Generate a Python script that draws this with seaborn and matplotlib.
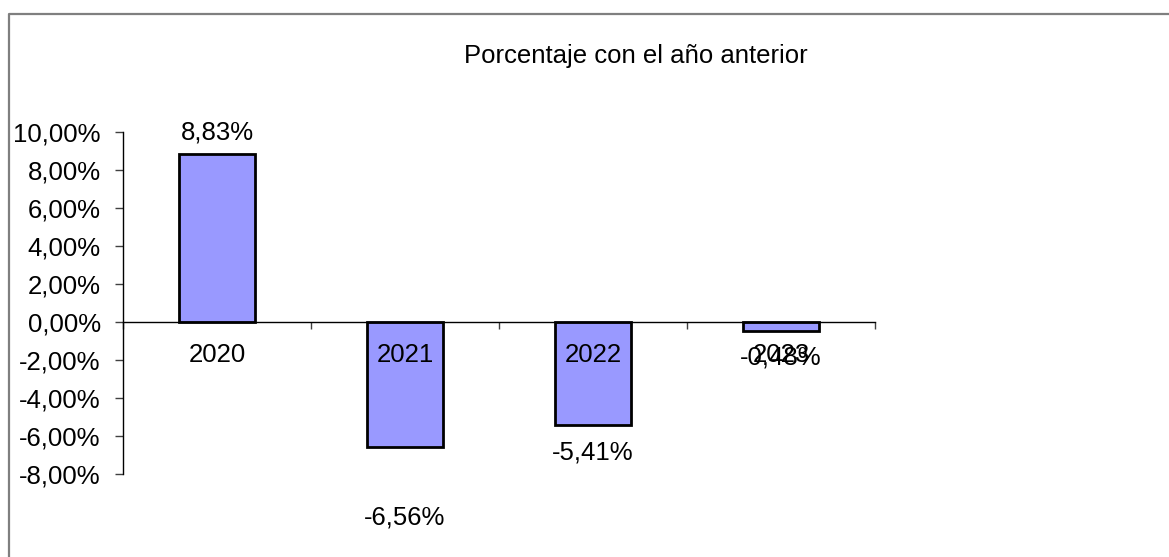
import matplotlib
matplotlib.use("Agg")
import matplotlib.pyplot as plt
import seaborn as sns
from matplotlib.lines import Line2D

# Data
years = ["2020", "2021", "2022", "2023"]
change_pct = [8.83, -6.56, -5.41, -0.48]
# vertical offset (points) of each data label from its bar end
label_offsets = [16, -51, -20, -19]

y_ticks = [-8, -6, -4, -2, 0, 2, 4, 6, 8, 10]
FS = 18.5


def pct(v):
    return f"{v:.2f}%".replace(".", ",")


sns.set_style("white")
plt.rcParams['font.family'] = ['Liberation Sans', 'DejaVu Sans']
plt.rcParams['text.color'] = 'black'
plt.rcParams['xtick.color'] = 'black'
plt.rcParams['ytick.color'] = 'black'

fig = plt.figure(figsize=(11.69, 5.57), dpi=100)
ax = fig.add_axes([123 / 1169, 1 - 474 / 557, (875 - 123) / 1169, (474 - 132) / 557])

sns.barplot(x=years, y=change_pct, color='#9999FF', saturation=1,
            edgecolor='black', linewidth=2, width=0.4, ax=ax)

ax.set_ylim(-8, 10)
ax.set_xlim(-0.5, 3.5)
ax.set_yticks(y_ticks)
ax.set_yticklabels([pct(t) for t in y_ticks], fontsize=FS, color='black')

# category boundaries as ticks; names written on top of the bars
ax.set_xticks([-0.5, 0.5, 1.5, 2.5, 3.5])
ax.set_xticklabels([])
ax.tick_params(axis='x', direction='out', length=5, width=1, color='#404040', bottom=True)
ax.tick_params(axis='y', direction='out', length=6, width=1, color='#404040', pad=10, left=True)

for i, name in enumerate(years):
    ax.annotate(name, (i, 0), xytext=(0, -24), textcoords='offset points',
                ha='center', va='center', fontsize=FS, color='black', zorder=5)

for side in ['top', 'right']:
    ax.spines[side].set_visible(False)
ax.spines['bottom'].set_position(('data', 0))
ax.spines['left'].set_bounds(-8, 10)
for side in ['bottom', 'left']:
    ax.spines[side].set_color('black')
    ax.spines[side].set_linewidth(1)
ax.set_xlabel('')
ax.set_ylabel('')

for i, (v, off) in enumerate(zip(change_pct, label_offsets)):
    ax.annotate(pct(v), (i, v), xytext=(0, off), textcoords='offset points',
                ha='center', va='center', fontsize=FS, color='black',
                annotation_clip=False, zorder=5)

fig.text(636 / 1169, 1 - 56 / 557, "Porcentaje con el año anterior",
         ha='center', va='center', fontsize=FS, color='black')

# chart area frame
fig.add_artist(Line2D([9 / 1169, 9 / 1169, 1.0], [0.0, 1 - 14 / 557, 1 - 14 / 557],
                      transform=fig.transFigure, color='#7f7f7f', linewidth=1.6))

fig.savefig('out.png', dpi=100)
